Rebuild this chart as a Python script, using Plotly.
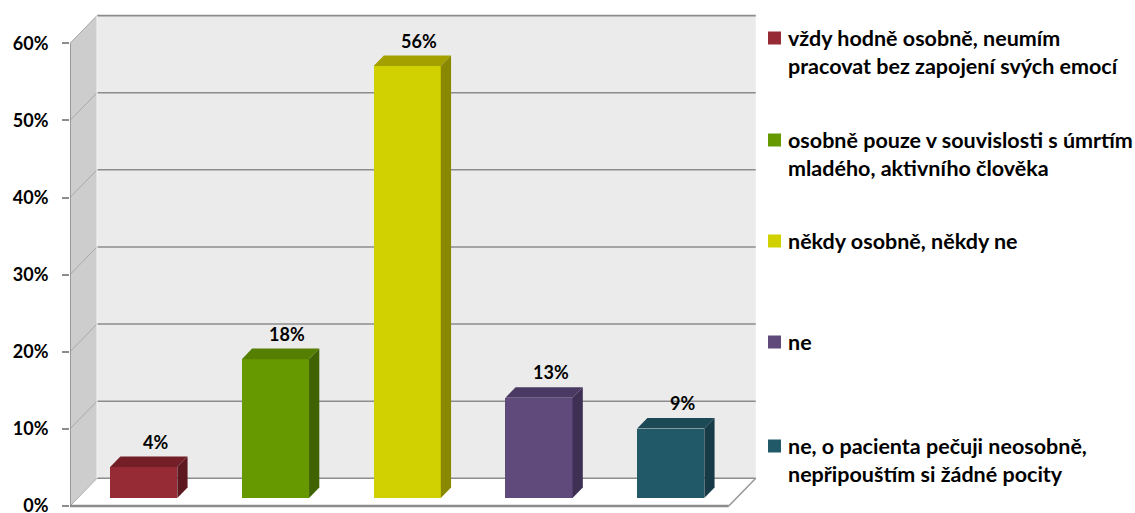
import plotly.graph_objects as go

# ---- data ----
categories = [
    "vždy hodně osobně, neumím\npracovat bez zapojení svých emocí",
    "osobně pouze v souvislosti s úmrtím\nmladého, aktivního člověka",
    "někdy osobně, někdy ne",
    "ne",
    "ne, o pacienta pečuji neosobně,\nnepřipouštím si žádné pocity",
]
values = [4, 18, 56, 13, 9]
y_ticks = [0, 10, 20, 30, 40, 50, 60]
tick_labels = [f"{t}%" for t in y_ticks]

front_colors = ["#962A35", "#669900", "#D1D000", "#604A7B", "#215968"]
top_colors = ["#741F28", "#547F00", "#A3A000", "#4A3A63", "#1B4956"]
side_colors = ["#5E1820", "#3F6300", "#8A8800", "#3E3054", "#163B46"]

# ---- geometry of the pseudo-3D frame ----
W, H = 1135, 513
ML, PLOT_R = 70, 760               # plot area in pixels
PX_PER_CAT = 131.75
PX_PER_PCT = 7.712
ZERO_PX = 506                      # pixel row of 0 % on the front plane

X_LO = -0.5
X_HI = X_LO + (PLOT_R - ML) / PX_PER_CAT
Y_LO = -(H - ZERO_PX) / PX_PER_PCT
Y_HI = ZERO_PX / PX_PER_PCT

FRONT_L, FRONT_R = -0.5, len(values) - 0.5
DX = 27 / PX_PER_CAT               # depth shift in category units
DY = 27.7 / PX_PER_PCT             # depth shift in percent units
BAR_FRONT, BAR_BACK = 0.29, 0.67   # bar slab within the depth
BAR_W = 0.51
TOP = max(y_ticks)

FONT = "Lato"
GRID = "#8C8C8C"

fig = go.Figure()

# front faces
bar_x = [i + BAR_FRONT * DX for i in range(len(values))]
base = BAR_FRONT * DY
fig.add_trace(go.Bar(
    x=bar_x, y=values, base=[base] * len(values), width=BAR_W,
    marker=dict(color=front_colors, line=dict(width=0)),
    showlegend=False, hoverinfo="skip",
))

# top and side faces
dd = BAR_BACK - BAR_FRONT
for xc, v, ct, cs in zip(bar_x, values, top_colors, side_colors):
    xl, xr = xc - BAR_W / 2, xc + BAR_W / 2
    yt = base + v
    fig.add_trace(go.Scatter(
        x=[xl, xr, xr + dd * DX, xl + dd * DX, xl],
        y=[yt, yt, yt + dd * DY, yt + dd * DY, yt],
        mode="lines", fill="toself", fillcolor=ct, line=dict(width=0, color=ct),
        showlegend=False, hoverinfo="skip",
    ))
    fig.add_trace(go.Scatter(
        x=[xr, xr, xr + dd * DX, xr + dd * DX, xr],
        y=[base, yt, yt + dd * DY, base + dd * DY, base],
        mode="lines", fill="toself", fillcolor=cs, line=dict(width=0, color=cs),
        showlegend=False, hoverinfo="skip",
    ))

shapes = []
# back wall
shapes.append(dict(type="rect", xref="x", yref="y", layer="below",
                   x0=FRONT_L + DX, x1=FRONT_R + DX, y0=DY, y1=TOP + DY,
                   fillcolor="#EBEBEB", line=dict(width=0)))
# side wall
shapes.append(dict(type="path", xref="x", yref="y", layer="below",
                   path=f"M {FRONT_L},0 L {FRONT_L + DX},{DY} L {FRONT_L + DX},{TOP + DY} L {FRONT_L},{TOP} Z",
                   fillcolor="#CDCDCD", line=dict(width=0)))
# floor
shapes.append(dict(type="path", xref="x", yref="y", layer="below",
                   path=f"M {FRONT_L},0 L {FRONT_R},0 L {FRONT_R + DX},{DY} L {FRONT_L + DX},{DY} Z",
                   fillcolor="#FFFFFF", line=dict(width=0)))
# gridlines on the back wall and across the side wall
for t in y_ticks:
    shapes.append(dict(type="line", xref="x", yref="y", layer="below",
                       x0=FRONT_L + DX, x1=FRONT_R + DX, y0=t + DY, y1=t + DY,
                       line=dict(color=GRID, width=1.6)))
    shapes.append(dict(type="line", xref="x", yref="y", layer="below",
                       x0=FRONT_L, x1=FRONT_L + DX, y0=t, y1=t + DY,
                       line=dict(color="#A8A8A8", width=1)))
# wall / floor edges
shapes.append(dict(type="line", xref="x", yref="y", layer="below",
                   x0=FRONT_L + DX, x1=FRONT_L + DX, y0=DY, y1=TOP + DY,
                   line=dict(color="#F4F4F4", width=1)))
shapes.append(dict(type="line", xref="x", yref="y", layer="below",
                   x0=FRONT_L, x1=FRONT_L, y0=0, y1=TOP,
                   line=dict(color=GRID, width=1.6)))
shapes.append(dict(type="line", xref="x", yref="y", layer="below",
                   x0=FRONT_L, x1=FRONT_R, y0=0, y1=0,
                   line=dict(color=GRID, width=2.6)))
shapes.append(dict(type="line", xref="x", yref="y", layer="below",
                   x0=FRONT_R, x1=FRONT_R + DX, y0=0, y1=DY,
                   line=dict(color="#9A9A9A", width=1.6)))

annotations = []
# value labels above the bars
for xc, v in zip(bar_x, values):
    annotations.append(dict(
        x=xc, y=base + v + dd * DY, xref="x", yref="y",
        text=f"{v}%", showarrow=False, xanchor="center", yanchor="middle",
        xshift=12, yshift=15,
        font=dict(family=FONT, size=18, color="#000000", weight="bold"),
    ))

# legend on the right
plot_w = PLOT_R - ML
def px_to_paper_x(px):
    return (px - ML) / plot_w

def px_to_paper_y(py):
    return 1 - py / H

legend_rows = [38, 140, 241, 342, 446]
LINE_GAP = 28
for label, color, row in zip(categories, front_colors, legend_rows):
    shapes.append(dict(type="rect", xref="paper", yref="paper",
                       x0=px_to_paper_x(768), x1=px_to_paper_x(781),
                       y0=px_to_paper_y(row - 6.5), y1=px_to_paper_y(row + 6.5),
                       fillcolor=color, line=dict(width=0)))
    for j, line in enumerate(label.split("\n")):
        annotations.append(dict(
            x=px_to_paper_x(786), y=px_to_paper_y(row + j * LINE_GAP),
            xref="paper", yref="paper", text=line, showarrow=False,
            xanchor="left", yanchor="middle", align="left",
            font=dict(family=FONT, size=21.5, color="#000000", weight="bold"),
        ))

fig.update_layout(
    width=W, height=H,
    margin=dict(l=ML, r=W - PLOT_R, t=0, b=0, autoexpand=False),
    paper_bgcolor="#FFFFFF", plot_bgcolor="rgba(0,0,0,0)",
    bargap=0, showlegend=False,
    shapes=shapes, annotations=annotations,
    xaxis=dict(range=[X_LO, X_HI], visible=False, fixedrange=True),
    yaxis=dict(
        range=[Y_LO, Y_HI], tickvals=y_ticks, ticktext=tick_labels,
        ticks="outside", ticklen=7, tickwidth=1.5, tickcolor=GRID,
        showgrid=False, zeroline=False, showline=False, fixedrange=True,
        ticklabelstandoff=10, ticklabeloverflow="allow",
        tickfont=dict(family=FONT, size=18, color="#000000", weight="bold"),
    ),
)

fig.write_html("out.html")
